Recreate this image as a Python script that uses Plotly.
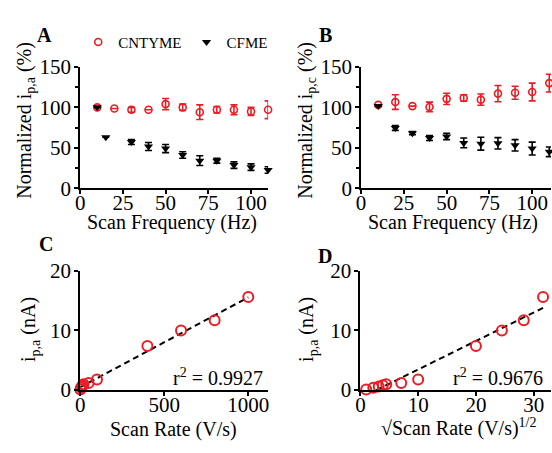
import numpy as np
import plotly.graph_objects as go

# ---------------- data ----------------
freq_a = [10, 20, 30, 40, 50, 60, 70, 80, 90, 100, 110]
cnt_a = [100, 98.5, 97, 97, 104, 100, 94, 97, 97, 95, 97]
cnt_a_err = [0, 0, 3, 0, 7, 4, 9, 4, 6, 5, 11]
cf_freq_a = [10, 15, 30, 40, 50, 60, 70, 80, 90, 100, 110]
cf_a = [100, 63, 57, 51.5, 49, 41, 34, 34, 28.5, 26, 22.5]
cf_a_err = [0, 0, 3, 5, 5, 4, 6, 3, 4, 4, 4]

freq_b = [10, 20, 30, 40, 50, 60, 70, 80, 90, 100, 110]
cnt_b = [103, 106.5, 101.5, 100.5, 110.5, 111.5, 109.5, 117, 118, 119, 130]
cnt_b_err = [0, 9, 0, 6, 7, 4, 7, 10, 8, 11, 11]
cf_b = [101.5, 74.5, 68, 62, 64, 56, 55, 55.5, 53, 49, 45]
cf_b_err = [0, 3, 2, 3, 4, 6, 8, 7, 7, 8, 6]

scan_rate = [1, 5, 10, 15, 20, 50, 100, 400, 600, 800, 1000]
ip_a = [0.1, 0.4, 0.6, 0.8, 1.0, 1.2, 1.8, 7.4, 10.0, 11.7, 15.6]

r2_c = "0.9927"
r2_d = "0.9676"

# ---------------- style ----------------
RED = "#ec1c24"
FONT = "Liberation Serif"
W, H = 552, 453


def px(x):
    return x / W


def py(y):
    return 1 - y / H


fig = go.Figure()


def err(arr, color):
    return dict(type="data", array=arr, visible=True, color=color,
                thickness=1.6, width=3.5)


# Panel A
fig.add_trace(go.Scatter(x=freq_a, y=cnt_a, mode="markers", name="CNTYME",
                         marker=dict(symbol="circle-open", size=7, color=RED,
                                     line=dict(width=1.6, color=RED)),
                         error_y=err(cnt_a_err, RED), xaxis="x", yaxis="y",
                         cliponaxis=False))
fig.add_trace(go.Scatter(x=cf_freq_a, y=cf_a, mode="markers", name="CFME",
                         marker=dict(symbol="triangle-down", size=8, color="black"),
                         error_y=err(cf_a_err, "black"), xaxis="x", yaxis="y",
                         cliponaxis=False))
# Panel B
fig.add_trace(go.Scatter(x=freq_b, y=cnt_b, mode="markers", showlegend=False,
                         marker=dict(symbol="circle-open", size=7, color=RED,
                                     line=dict(width=1.6, color=RED)),
                         error_y=err(cnt_b_err, RED), xaxis="x2", yaxis="y2",
                         cliponaxis=False))
fig.add_trace(go.Scatter(x=freq_b, y=cf_b, mode="markers", showlegend=False,
                         marker=dict(symbol="triangle-down", size=8, color="black"),
                         error_y=err(cf_b_err, "black"), xaxis="x2", yaxis="y2",
                         cliponaxis=False))

# Panel C
rate = np.array(scan_rate, dtype=float)
ip = np.array(ip_a, dtype=float)
mc, bc = np.polyfit(rate, ip, 1)
xc = np.array([0.0, rate.max()])
fig.add_trace(go.Scatter(x=xc, y=mc * xc + bc, mode="lines", showlegend=False,
                         line=dict(color="black", width=2, dash="6px,4px"),
                         xaxis="x3", yaxis="y3"))
fig.add_trace(go.Scatter(x=rate, y=ip, mode="markers", showlegend=False,
                         marker=dict(symbol="circle-open", size=10, color=RED,
                                     line=dict(width=2, color=RED)),
                         xaxis="x3", yaxis="y3", cliponaxis=False))

# Panel D
sr = np.sqrt(rate)
md, bd = np.polyfit(sr, ip, 1)
xd = np.array([-bd / md, sr.max()])
fig.add_trace(go.Scatter(x=xd, y=md * xd + bd, mode="lines", showlegend=False,
                         line=dict(color="black", width=2, dash="6px,4px"),
                         xaxis="x4", yaxis="y4"))
fig.add_trace(go.Scatter(x=sr, y=ip, mode="markers", showlegend=False,
                         marker=dict(symbol="circle-open", size=10, color=RED,
                                     line=dict(width=2, color=RED)),
                         xaxis="x4", yaxis="y4", cliponaxis=False))

axis_common = dict(showline=True, linecolor="black", linewidth=2,
                   ticks="outside", tickwidth=2, tickcolor="black",
                   showgrid=False, zeroline=False,
                   tickfont=dict(family=FONT, size=21, color="black"))
xax = dict(ticklen=4, ticklabelstandoff=-9, **axis_common)
yax = dict(ticklen=4, ticklabelstandoff=-1, **axis_common)
minor_y = dict(ticks="outside", ticklen=3, tickwidth=1.5,
               tickcolor="black", dtick=25, tick0=0)

top_ab, bot_ab = 58, 186
top_cd, bot_cd = 273.3, 399.3

fig.update_layout(
    width=W, height=H, autosize=False,
    margin=dict(l=0, r=0, t=0, b=0),
    paper_bgcolor="white", plot_bgcolor="white",
    font=dict(family=FONT, color="black"),
    xaxis=dict(domain=[px(76), px(266)], anchor="y", range=[0, 110],
               tickvals=[0, 25, 50, 75, 100], **xax),
    yaxis=dict(domain=[py(bot_ab), py(top_ab)], anchor="x", range=[0, 150],
               tickvals=[0, 50, 100, 150], minor=minor_y, **yax),
    xaxis2=dict(domain=[px(360), 1.0], anchor="y2", range=[0, 111],
                tickvals=[0, 25, 50, 75, 100], **xax),
    yaxis2=dict(domain=[py(bot_ab), py(top_ab)], anchor="x2", range=[0, 150],
                tickvals=[0, 50, 100, 150], minor=minor_y, **yax),
    xaxis3=dict(domain=[px(76), px(266)], anchor="y3", range=[0, 1118],
                tickvals=[0, 500, 1000], **xax),
    yaxis3=dict(domain=[py(bot_cd), py(top_cd)], anchor="x3", range=[0, 20],
                tickvals=[0, 10, 20], **yax),
    xaxis4=dict(domain=[px(359.3), 1.0], anchor="y4", range=[0, 33],
                tickvals=[0, 10, 20, 30], **xax),
    yaxis4=dict(domain=[py(bot_cd), py(top_cd)], anchor="x4", range=[0, 20],
                tickvals=[0, 10, 20], **yax),
    legend=dict(orientation="h", x=px(74), y=py(32), xanchor="left",
                yanchor="middle", font=dict(family=FONT, size=15, color="black"),
                bgcolor="rgba(0,0,0,0)", itemwidth=30),
)

ann = []


def add_text(text, x, y, size=20, angle=0, bold=False, xanchor="center"):
    ann.append(dict(text=("<b>%s</b>" % text) if bold else text,
                    x=px(x), y=py(y), xref="paper", yref="paper",
                    showarrow=False, textangle=angle, xanchor=xanchor,
                    yanchor="middle",
                    font=dict(family=FONT, size=size, color="black")))


# panel letters
add_text("A", 40, 24, size=20, bold=True)
add_text("B", 324, 24, size=20, bold=True)
add_text("C", 41, 245, size=20, bold=True)
add_text("D", 324, 258, size=20, bold=True)
# axis titles
add_text("Scan Frequency (Hz)", 169, 222, size=20)
add_text("Scan Frequency (Hz)", 453, 222, size=20)
add_text("Scan Rate (V/s)", 170, 441, size=20)
add_text("√Scan Rate (V/s)<sup>1/2</sup>", 459, 439, size=20)
add_text("Normalized i<sub>p,a</sub> (%)", 21, 114, size=20, angle=-90)
add_text("Normalized i<sub>p,c</sub> (%)", 305, 114, size=20, angle=-90)
add_text("i<sub>p,a</sub> (nA)", 25, 335, size=20, angle=-90)
add_text("i<sub>p,a</sub> (nA)", 306, 335, size=20, angle=-90)
# r^2
add_text("r<sup>2</sup> = " + r2_c, 263, 385, size=20, xanchor="right")
add_text("r<sup>2</sup> = " + r2_d, 546, 385, size=20, xanchor="right")

fig.update_layout(annotations=ann)

fig.write_html("out.html",
               config={"displayModeBar": False},
               post_script="document.body.style.margin='0';"
                           "document.body.style.padding='0';"
                           "document.body.style.overflow='hidden';")
